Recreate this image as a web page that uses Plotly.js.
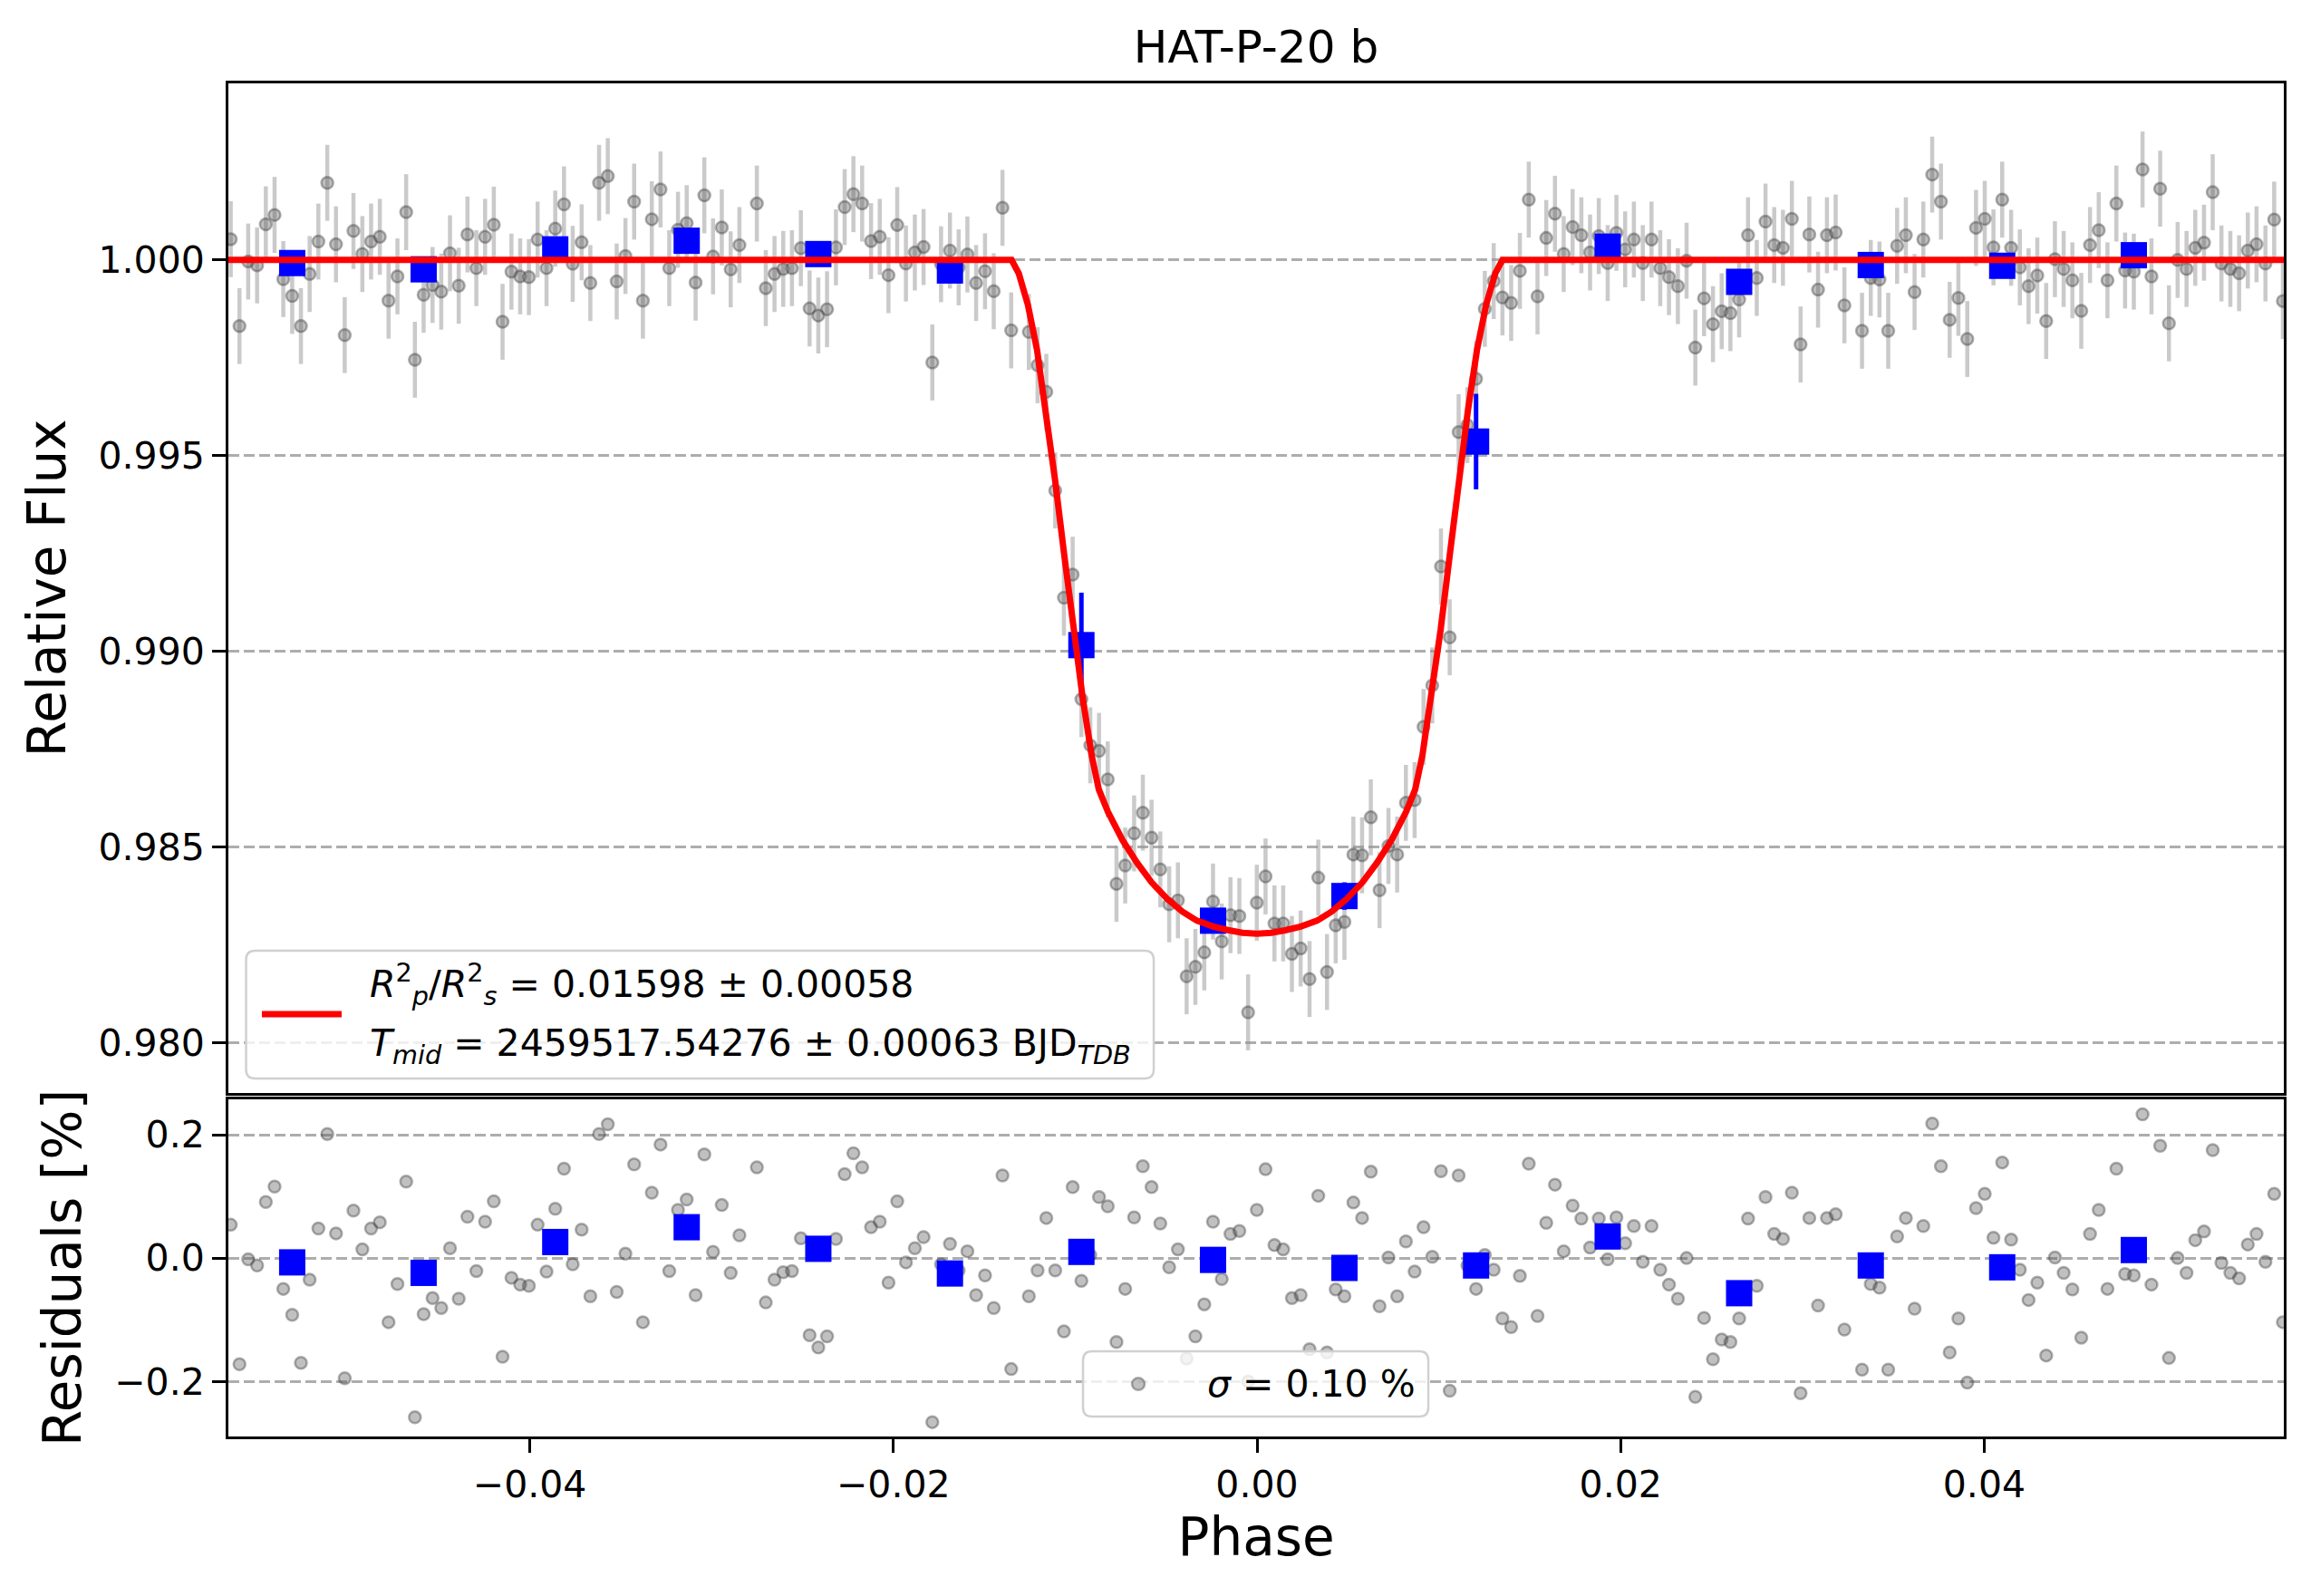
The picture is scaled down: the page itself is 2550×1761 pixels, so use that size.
<!DOCTYPE html>
<html>
<head>
<meta charset="utf-8">
<script src="https://cdn.plot.ly/plotly-3.0.1.min.js"></script>
<style>
  body { margin: 0; background: #fff; }
  #lc { width: 2550px; height: 1761px; }
</style>
</head>
<body>
<div id="lc"></div>
<script>
// phase of each exposure
var phase = [
  -0.05645, -0.05597, -0.05549, -0.05500, -0.05452, -0.05404, -0.05356, -0.05307, -0.05259, -0.05211,
  -0.05163, -0.05114, -0.05066, -0.05018, -0.04970, -0.04921, -0.04873, -0.04825, -0.04777, -0.04728,
  -0.04680, -0.04632, -0.04584, -0.04535, -0.04487, -0.04439, -0.04391, -0.04343, -0.04294, -0.04246,
  -0.04198, -0.04150, -0.04101, -0.04053, -0.04005, -0.03957, -0.03908, -0.03860, -0.03812, -0.03764,
  -0.03715, -0.03667, -0.03619, -0.03571, -0.03522, -0.03474, -0.03426, -0.03378, -0.03329, -0.03281,
  -0.03233, -0.03185, -0.03137, -0.03088, -0.03040, -0.02992, -0.02944, -0.02895, -0.02847,
  -0.02751, -0.02702, -0.02654, -0.02606, -0.02558, -0.02509, -0.02461, -0.02413, -0.02365, -0.02316,
  -0.02268, -0.02220, -0.02172, -0.02123, -0.02075, -0.02027, -0.01979, -0.01931, -0.01882, -0.01834,
  -0.01786, -0.01738, -0.01689, -0.01641, -0.01593, -0.01545, -0.01496, -0.01448, -0.01400, -0.01352,
  -0.01255, -0.01207, -0.01159, -0.01110, -0.01062, -0.01014, -0.00966, -0.00917, -0.00869, -0.00821,
  -0.00773, -0.00725, -0.00676, -0.00628, -0.00580, -0.00532, -0.00483, -0.00435, -0.00387, -0.00339,
  -0.00290, -0.00242, -0.00194, -0.00146, -0.00097, -0.00049, -0.00001, 0.00047, 0.00096, 0.00144,
  0.00192, 0.00240, 0.00289, 0.00337, 0.00385, 0.00433, 0.00481, 0.00530, 0.00578, 0.00626,
  0.00674, 0.00723, 0.00771, 0.00819, 0.00867, 0.00916, 0.00964, 0.01012, 0.01060, 0.01109,
  0.01157, 0.01205, 0.01253, 0.01302, 0.01350, 0.01398, 0.01446, 0.01495, 0.01543, 0.01591,
  0.01639, 0.01687, 0.01736, 0.01784, 0.01832, 0.01880, 0.01929, 0.01977, 0.02025, 0.02073,
  0.02122, 0.02170, 0.02218, 0.02266, 0.02315, 0.02363, 0.02411, 0.02459, 0.02508, 0.02556,
  0.02604, 0.02652, 0.02701, 0.02749, 0.02797, 0.02845, 0.02893, 0.02942, 0.02990, 0.03038,
  0.03086, 0.03135, 0.03183, 0.03231,
  0.03328, 0.03376, 0.03424, 0.03472, 0.03521, 0.03569, 0.03617, 0.03665, 0.03714, 0.03762,
  0.03810, 0.03858, 0.03907, 0.03955, 0.04003, 0.04051, 0.04099, 0.04148, 0.04196, 0.04244,
  0.04292, 0.04341, 0.04389, 0.04437, 0.04485, 0.04534, 0.04582, 0.04630, 0.04678, 0.04727,
  0.04775, 0.04823, 0.04871, 0.04920, 0.04968, 0.05016, 0.05064, 0.05113, 0.05161, 0.05209,
  0.05257, 0.05305, 0.05354, 0.05402, 0.05450, 0.05498, 0.05547, 0.05595, 0.05643
];

var flux = [
  1.00053, 0.99831, 0.99996, 0.99986, 1.00091, 1.00115, 0.99951, 0.99908, 0.99831, 0.99964,
  1.00047, 1.00197, 1.00040, 0.99808, 1.00074, 1.00015, 1.00047, 1.00059, 0.99896, 0.99958,
  1.00122, 0.99745, 0.99911, 0.99936, 0.99919, 1.00017, 0.99934, 1.00065, 0.99979, 1.00059,
  1.00090, 0.99842, 0.99970, 0.99958, 0.99956, 1.00052, 0.99979, 1.00080, 1.00142, 0.99990,
  1.00045, 0.99941, 1.00197, 1.00214, 0.99945, 1.00010, 1.00149, 0.99896, 1.00104, 1.00180,
  0.99979, 1.00077, 1.00094, 0.99942, 1.00165, 1.00009, 1.00083, 0.99976, 1.00038,
  1.00144, 0.99928, 0.99964, 0.99977, 0.99979, 1.00030, 0.99876, 0.99858, 0.99874, 1.00032,
  1.00135, 1.00168, 1.00144, 1.00048, 1.00059, 0.99961, 1.00089, 0.99991, 1.00019, 1.00033,
  0.99738, 0.99989, 1.00024, 0.99981, 1.00014, 0.99941, 0.99971, 0.99920, 1.00133, 0.99820,
  0.99816, 0.99731, 0.99663, 0.99411, 0.99137, 0.99196, 0.98878, 0.98760, 0.98746, 0.98673,
  0.98406, 0.98453, 0.98535, 0.98588, 0.98524, 0.98443, 0.98354, 0.98364, 0.98170, 0.98194,
  0.98231, 0.98361, 0.98259, 0.98326, 0.98324, 0.98078, 0.98358, 0.98425, 0.98305, 0.98305,
  0.98227, 0.98241, 0.98163, 0.98422, 0.98181, 0.98300, 0.98309, 0.98481, 0.98479, 0.98576,
  0.98390, 0.98503, 0.98481, 0.98613, 0.98620, 0.98807, 0.98913, 0.99217, 0.99036, 0.99560,
  0.99578, 0.99696, 0.99875, 0.99946, 0.99904, 0.99890, 0.99972, 1.00154, 0.99907, 1.00056,
  1.00118, 1.00015, 1.00084, 1.00063, 1.00019, 1.00061, 0.99992, 1.00069, 1.00027, 1.00052,
  0.99992, 1.00052, 0.99979, 0.99956, 0.99933, 0.99998, 0.99776, 0.99902, 0.99836, 0.99869,
  0.99864, 0.99899, 1.00063, 0.99954, 1.00098, 1.00038, 1.00031, 1.00105, 0.99784, 1.00065,
  0.99924, 1.00063, 1.00070, 0.99884,
  0.99819, 0.99954, 0.99950, 0.99819, 1.00036, 1.00063, 0.99918, 1.00052, 1.00218, 1.00149,
  0.99847, 0.99903, 0.99798, 1.00082, 1.00105, 1.00032, 1.00154, 1.00031, 0.99981, 0.99933,
  0.99960, 0.99844, 1.00002, 0.99977, 0.99948, 0.99870, 1.00038, 1.00076, 0.99948, 1.00144,
  0.99973, 0.99970, 1.00231, 0.99958, 1.00182, 0.99838, 1.00000, 0.99977, 1.00031, 1.00044,
  1.00173, 0.99991, 0.99977, 0.99966, 1.00024, 1.00040, 0.99991, 1.00103, 0.99895
];
var fluxErr = 0.00097;

// residuals in percent
var resid = [
  0.054, -0.172, -0.002, -0.012, 0.091, 0.116, -0.050, -0.092, -0.170, -0.035,
  0.048, 0.201, 0.040, -0.195, 0.077, 0.014, 0.048, 0.058, -0.104, -0.042,
  0.124, -0.258, -0.091, -0.065, -0.081, 0.016, -0.066, 0.067, -0.021, 0.059,
  0.092, -0.160, -0.032, -0.043, -0.045, 0.054, -0.022, 0.080, 0.145, -0.010,
  0.046, -0.062, 0.201, 0.217, -0.055, 0.007, 0.152, -0.104, 0.106, 0.184,
  -0.021, 0.078, 0.095, -0.060, 0.168, 0.010, 0.086, -0.024, 0.037,
  0.147, -0.072, -0.035, -0.023, -0.021, 0.032, -0.125, -0.145, -0.127, 0.031,
  0.136, 0.170, 0.147, 0.050, 0.059, -0.040, 0.092, -0.007, 0.016, 0.034,
  -0.266, -0.010, 0.023, -0.020, 0.011, -0.060, -0.028, -0.081, 0.134, -0.180,
  -0.062, -0.020, 0.065, -0.020, -0.119, 0.115, -0.037, 0.005, 0.099, 0.084,
  -0.136, -0.050, 0.066, 0.149, 0.115, 0.056, -0.015, 0.014, -0.163, -0.127,
  -0.075, 0.059, -0.034, 0.039, 0.044, -0.200, 0.078, 0.144, 0.021, 0.014,
  -0.065, -0.060, -0.148, 0.101, -0.153, -0.051, -0.062, 0.090, 0.065, 0.140,
  -0.078, 0.001, -0.062, 0.027, -0.022, 0.050, 0.002, 0.141, -0.215, 0.134,
  -0.012, -0.050, 0.005, -0.019, -0.098, -0.112, -0.029, 0.153, -0.094, 0.057,
  0.119, 0.011, 0.085, 0.064, 0.017, 0.064, -0.002, 0.066, 0.024, 0.052,
  -0.006, 0.052, -0.019, -0.043, -0.066, 0.000, -0.225, -0.097, -0.164, -0.132,
  -0.136, -0.098, 0.064, -0.045, 0.099, 0.039, 0.031, 0.106, -0.219, 0.065,
  -0.077, 0.065, 0.071, -0.116,
  -0.181, -0.042, -0.048, -0.181, 0.035, 0.065, -0.082, 0.052, 0.218, 0.149,
  -0.153, -0.098, -0.202, 0.081, 0.104, 0.033, 0.155, 0.030, -0.019, -0.068,
  -0.040, -0.158, 0.001, -0.024, -0.051, -0.129, 0.039, 0.078, -0.050, 0.145,
  -0.026, -0.028, 0.233, -0.043, 0.182, -0.162, 0.000, -0.024, 0.029, 0.043,
  0.175, -0.008, -0.024, -0.033, 0.022, 0.039, -0.006, 0.104, -0.104
];

// transit model
var modelPhase = [-0.0566, -0.0135, -0.0131, -0.0126, -0.0121, -0.0116, -0.0111, -0.0106, -0.0101, -0.0096,
  -0.0091, -0.0087, -0.0082, -0.0074, -0.0066, -0.0058, -0.0049, -0.0041, -0.0033, -0.0024,
  -0.0016, -0.0008, 0.0, 0.0008, 0.0016, 0.0024, 0.0033, 0.0041, 0.0049, 0.0058,
  0.0066, 0.0074, 0.0082, 0.0087, 0.0091, 0.0096, 0.0101, 0.0106, 0.0111, 0.0116,
  0.0121, 0.0126, 0.0131, 0.0135, 0.0566];
var modelFlux = [1.0, 1.0, 0.99965, 0.99885, 0.99770, 0.99615, 0.99435, 0.99245, 0.99055, 0.98885,
  0.98735, 0.98647, 0.98590, 0.98518, 0.98460, 0.98410, 0.98366, 0.98335, 0.98312, 0.98297,
  0.98288, 0.98281, 0.98279, 0.98281, 0.98288, 0.98297, 0.98312, 0.98335, 0.98366, 0.98410,
  0.98460, 0.98518, 0.98590, 0.98647, 0.98735, 0.98885, 0.99055, 0.99245, 0.99435, 0.99615,
  0.99770, 0.99885, 0.99965, 1.0, 1.0];

// binned data
var binPhase = [-0.05307, -0.04584, -0.03860, -0.03137, -0.02413, -0.01689, -0.00966, -0.00242,
  0.00481, 0.01205, 0.01929, 0.02652, 0.03376, 0.04099, 0.04823];
var binFlux = [0.99992, 0.99976, 1.00027, 1.00049, 1.00015, 0.99973, 0.99016, 0.98312,
  0.98375, 0.99536, 1.00034, 0.99944, 0.99987, 0.99985, 1.00012];
var binErr = [0.00025, 0.00025, 0.00025, 0.00025, 0.00025, 0.00025, 0.00134, 0.0003,
  0.00035, 0.00122, 0.00025, 0.00025, 0.00025, 0.00025, 0.00025];
var binResid = [-0.007, -0.024, 0.026, 0.050, 0.015, -0.025, 0.010, -0.003,
  -0.016, -0.012, 0.035, -0.057, -0.012, -0.015, 0.013];

var fitText = '<i>R</i><sup>2</sup><sub><i>p</i></sub>/<i>R</i><sup>2</sup><sub><i>s</i></sub> = 0.01598 ± 0.00058';
var tmidText = '<i>T</i><sub><i>mid</i></sub> = 2459517.54276 ± 0.00063 BJD<sub><i>TDB</i></sub>';
var sigmaText = '<i>σ</i> = 0.10 %';

var font = 'DejaVu Sans';
var grayPts = {
  color: 'rgba(90,90,90,0.38)', size: 13,
  line: {color: 'rgba(60,60,60,0.4)', width: 2.5}
};

var traces = [
  {
    x: phase, y: flux, xaxis: 'x', yaxis: 'y', type: 'scatter', mode: 'markers',
    marker: grayPts,
    error_y: {type: 'constant', value: fluxErr, color: 'rgba(150,150,150,0.5)', thickness: 4.5, width: 0}
  },
  {
    x: binPhase, y: binFlux, xaxis: 'x', yaxis: 'y', type: 'scatter', mode: 'markers',
    marker: {symbol: 'square', color: '#0000ff', size: 29},
    error_y: {type: 'data', array: binErr, color: '#0000ff', thickness: 5, width: 0}
  },
  {
    x: modelPhase, y: modelFlux, xaxis: 'x', yaxis: 'y', type: 'scatter', mode: 'lines',
    line: {color: '#ff0000', width: 7}
  },
  {
    x: phase, y: resid, xaxis: 'x2', yaxis: 'y2', type: 'scatter', mode: 'markers',
    marker: grayPts
  },
  {
    x: binPhase, y: binResid, xaxis: 'x2', yaxis: 'y2', type: 'scatter', mode: 'markers',
    marker: {symbol: 'square', color: '#0000ff', size: 29}
  }
];

// rounded legend frame in paper units
function frame(x0, x1, y0, y1) {
  var rx = 10 / 2268, ry = 10 / 1493;
  var p = 'M' + (x0 + rx) + ',' + y0 + ' L' + (x1 - rx) + ',' + y0 +
    ' Q' + x1 + ',' + y0 + ' ' + x1 + ',' + (y0 + ry) + ' L' + x1 + ',' + (y1 - ry) +
    ' Q' + x1 + ',' + y1 + ' ' + (x1 - rx) + ',' + y1 + ' L' + (x0 + rx) + ',' + y1 +
    ' Q' + x0 + ',' + y1 + ' ' + x0 + ',' + (y1 - ry) + ' L' + x0 + ',' + (y0 + ry) +
    ' Q' + x0 + ',' + y0 + ' ' + (x0 + rx) + ',' + y0 + ' Z';
  return {type: 'path', xref: 'paper', yref: 'paper', path: p, layer: 'above',
          fillcolor: 'rgba(255,255,255,0.8)', line: {color: '#d0d0d0', width: 2.5}};
}

var xr = [-0.05658, 0.05648];
var axisBase = {
  showline: true, mirror: true, linecolor: '#000', linewidth: 3,
  zeroline: false, ticks: 'outside', ticklen: 15, tickwidth: 3, tickcolor: '#000',
  tickfont: {family: font, size: 41, color: '#000'}
};
var grid = {showgrid: true, gridcolor: '#adadad', gridwidth: 2.5, griddash: '12px,5px'};

var layout = {
  width: 2550, height: 1761,
  margin: {l: 252, r: 30, t: 92, b: 176},
  paper_bgcolor: '#fff', plot_bgcolor: '#fff',
  showlegend: false,
  font: {family: font, color: '#000'},
  title: {text: 'HAT-P-20 b', font: {family: font, size: 50, color: '#000'},
          x: 0.5, xref: 'paper', y: 0.9705, yanchor: 'middle'},
  xaxis: Object.assign({}, axisBase, {anchor: 'y', range: xr, showticklabels: false, ticks: '', showgrid: false}),
  xaxis2: Object.assign({}, axisBase, {
    anchor: 'y2', range: xr, showgrid: false,
    tickvals: [-0.04, -0.02, 0, 0.02, 0.04], tickformat: '.2f',
    title: {text: 'Phase', font: {family: font, size: 58}, standoff: 14}
  }),
  yaxis: Object.assign({}, axisBase, grid, {
    anchor: 'x', domain: [0.2539, 1], range: [0.97872, 1.00451],
    tickvals: [0.98, 0.985, 0.99, 0.995, 1.0], tickformat: '.3f',
    title: {text: 'Relative Flux', font: {family: font, size: 58}, standoff: 18}
  }),
  yaxis2: Object.assign({}, axisBase, grid, {
    anchor: 'x2', domain: [0, 0.2492], range: [-0.2893, 0.2574],
    tickvals: [-0.2, 0, 0.2], tickformat: '.1f',
    title: {text: 'Residuals [%]', font: {family: font, size: 58}, standoff: 18}
  }),
  shapes: [
    frame(0.0086, 0.4502, 0.2646, 0.3590),
    {type: 'line', xref: 'paper', yref: 'paper', x0: 0.0163, x1: 0.0551, y0: 0.3121, y1: 0.3121,
     layer: 'above', line: {color: '#ff0000', width: 7}},
    frame(0.4158, 0.5838, 0.0147, 0.0630),
    {type: 'circle', xref: 'paper', yref: 'paper', x0: 0.4396, x1: 0.4458, y0: 0.0343, y1: 0.0433,
     layer: 'above', fillcolor: 'rgba(90,90,90,0.38)', line: {color: 'rgba(60,60,60,0.4)', width: 2.5}}
  ],
  annotations: [
    {text: fitText, xref: 'paper', yref: 'paper', x: 0.0679, y: 0.3342, xanchor: 'left', yanchor: 'middle',
     showarrow: false, font: {family: font, size: 41, color: '#000'}},
    {text: tmidText, xref: 'paper', yref: 'paper', x: 0.0679, y: 0.2887, xanchor: 'left', yanchor: 'middle',
     showarrow: false, font: {family: font, size: 41, color: '#000'}},
    {text: sigmaText, xref: 'paper', yref: 'paper', x: 0.4753, y: 0.0388, xanchor: 'left', yanchor: 'middle',
     showarrow: false, font: {family: font, size: 41, color: '#000'}}
  ]
};

Plotly.newPlot('lc', traces, layout, {displayModeBar: false});
</script>
</body>
</html>
